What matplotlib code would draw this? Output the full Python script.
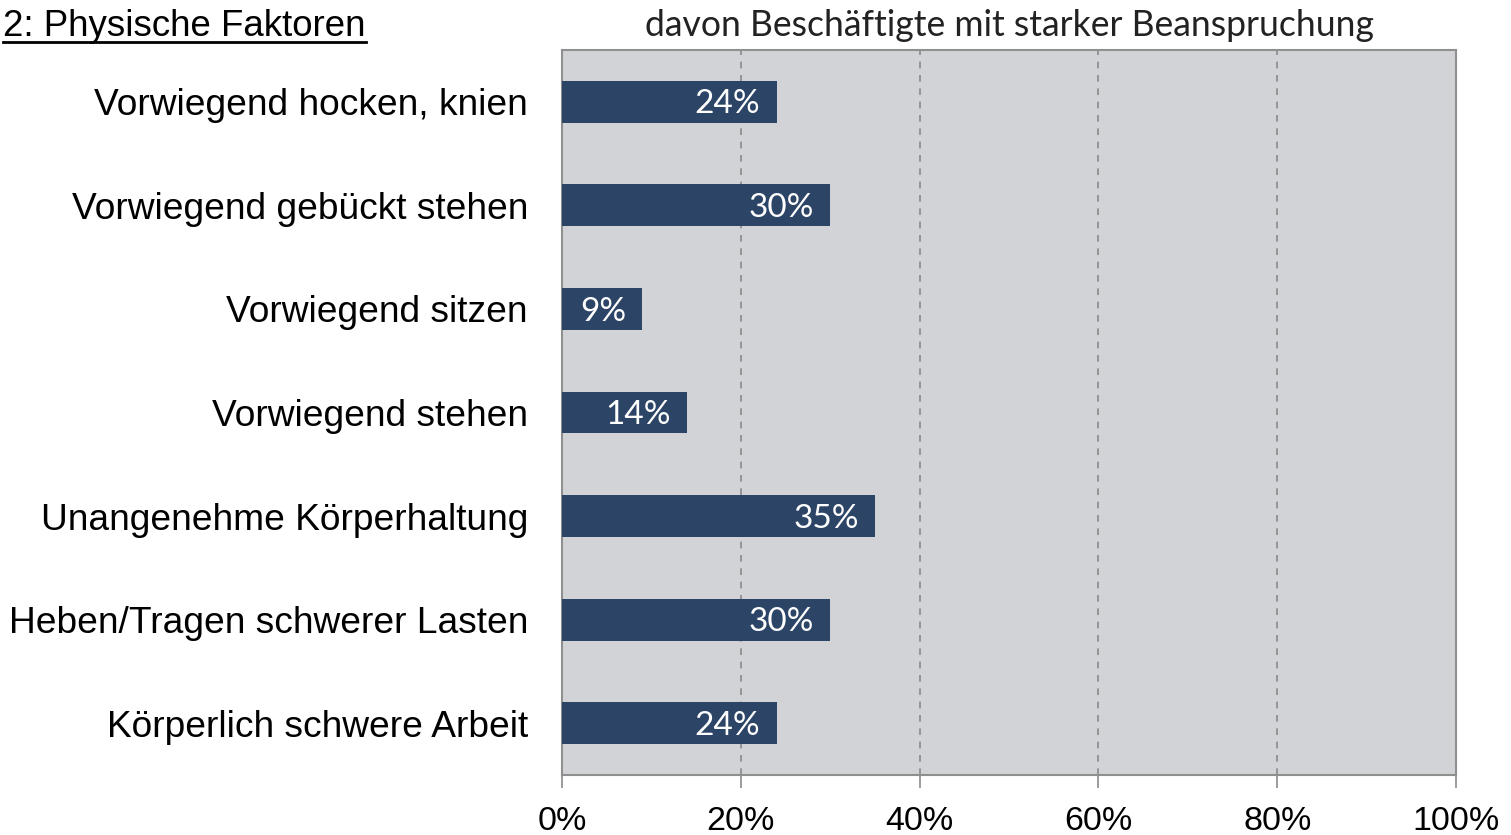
import matplotlib
matplotlib.use("Agg")
import matplotlib.pyplot as plt
from matplotlib.lines import Line2D
from matplotlib import font_manager

# Data ------------------------------------------------------------------------
categories = [
    "Vorwiegend hocken, knien",
    "Vorwiegend gebückt stehen",
    "Vorwiegend sitzen",
    "Vorwiegend stehen",
    "Unangenehme Körperhaltung",
    "Heben/Tragen schwerer Lasten",
    "Körperlich schwere Arbeit",
]
values = [24, 30, 9, 14, 35, 30, 24]
value_labels = ["24%", "30%", "9%", "14%", "35%", "30%", "24%"]
xticks = [0, 20, 40, 60, 80, 100]
xtick_labels = ["0%", "20%", "40%", "60%", "80%", "100%"]
title = "2: Physische Faktoren"
subtitle = "davon Beschäftigte mit starker Beanspruchung"

# Styles ----------------------------------------------------------------------
bar_color = "#2C4465"
bg_color = "#D1D3D6"
grid_color = "#8A8A8A"
names = {f.name for f in font_manager.fontManager.ttflist}
narrow = ["Liberation Sans Narrow", "Liberation Sans"] if "Liberation Sans Narrow" in names else ["Liberation Sans"]

fig = plt.figure(figsize=(15.11, 8.35), dpi=100)
ax = fig.add_axes([0.3719, 0.0719, 0.5917, 0.8682])
ax.set_facecolor(bg_color)

y = list(range(len(categories)))
ax.barh(y, values, height=0.405, color=bar_color, zorder=3)
ax.set_xlim(0, 100)
ax.set_ylim(len(categories) - 0.5, -0.5)

# Grid lines at 20..80
for t in xticks[1:-1]:
    ax.axvline(t, color=grid_color, linestyle=(0, (4, 4)), linewidth=1.2, zorder=1)

# Value labels inside bars
for yi, v, lab in zip(y, values, value_labels):
    ax.text(v - 1.8, yi + 0.025, lab, ha="right", va="center", color="white",
            fontsize=24, family="Lato", zorder=4)

# Axes styling
ax.set_yticks(y)
ax.set_yticklabels(categories, fontsize=26.7, family="Liberation Sans", va="center_baseline")
ax.tick_params(axis="y", length=0, pad=24.5)
ax.set_xticks(xticks)
ax.set_xticklabels(xtick_labels, fontsize=24.5, family=narrow)
ax.tick_params(axis="x", length=9, width=1.2, color=grid_color, pad=13, direction="out")
for s in ax.spines.values():
    s.set_color("#8F8F8F")
    s.set_linewidth(1.5)

# Titles
fig.text(0.668, 0.970, subtitle, ha="center", va="center",
         fontsize=25.6, family="Lato", color="#222222")
t = fig.text(0.002, 0.968, title, ha="left", va="center", fontsize=26.4,
             family="Liberation Sans", color="black")

fig.canvas.draw()
bb = t.get_window_extent(renderer=fig.canvas.get_renderer()).transformed(fig.transFigure.inverted())
fig.add_artist(Line2D([bb.x0, bb.x1], [bb.y0 + 0.003, bb.y0 + 0.003],
                      transform=fig.transFigure, color="black", linewidth=2))

fig.savefig("out.png", dpi=100, facecolor="white")
